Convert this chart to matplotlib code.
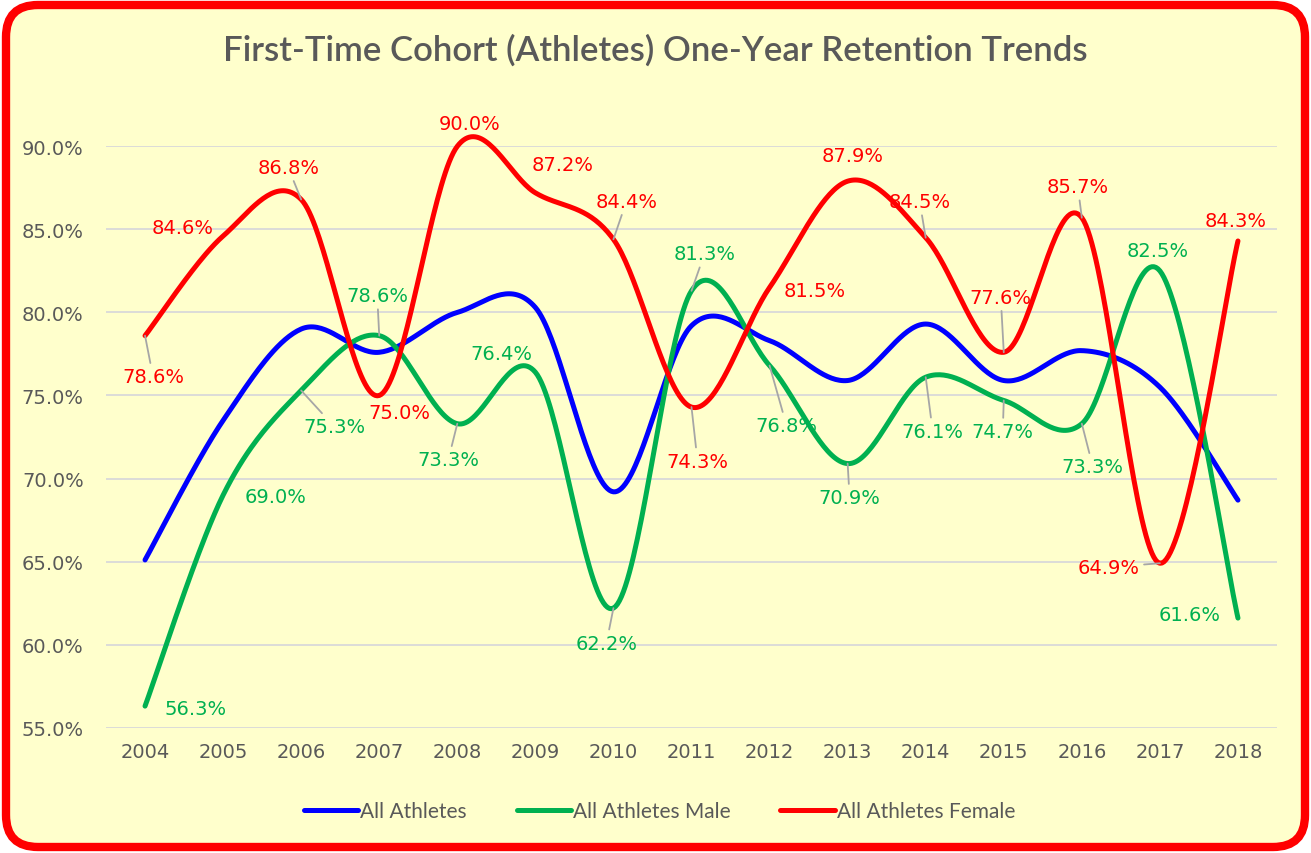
import numpy as np
import matplotlib
matplotlib.use("Agg")
import matplotlib.pyplot as plt
from matplotlib.patches import FancyBboxPatch
from matplotlib.transforms import IdentityTransform
from matplotlib.ticker import PercentFormatter

years = ["2004", "2005", "2006", "2007", "2008", "2009", "2010", "2011",
         "2012", "2013", "2014", "2015", "2016", "2017", "2018"]
all_athletes = [65.1, 73.5, 79.0, 77.6, 80.0, 80.3, 69.2, 79.2,
                78.3, 75.9, 79.3, 75.9, 77.7, 75.5, 68.7]
male = [56.3, 69.0, 75.3, 78.6, 73.3, 76.4, 62.2, 81.3,
        76.8, 70.9, 76.1, 74.7, 73.3, 82.5, 61.6]
female = [78.6, 84.6, 86.8, 75.0, 90.0, 87.2, 84.4, 74.3,
          81.5, 87.9, 84.5, 77.6, 85.7, 64.9, 84.3]

# label offsets in pixels (dx, dy; dy positive = down) and leader line flags
male_off = [(51, 2), (52, 1), (33, 36), (-2, -40), (-9, 36), (-34, -19), (-7, 35), (13, -37),
            (17, 60), (2, 34), (7, 54), (-1, 31), (11, 43), (-2, -20), (-48, -4)]
male_lead = [0, 0, 1, 1, 1, 0, 1, 1, 1, 1, 1, 1, 1, 0, 0]
female_off = [(8, 41), (-40, -9), (-13, -32), (20, 17), (12, -23), (27, -28), (13, -38), (6, 54),
              (45, 3), (5, -26), (-6, -36), (-3, -55), (-4, -31), (-51, 4), (-2, -20)]
female_lead = [1, 0, 1, 0, 0, 0, 1, 1, 0, 0, 1, 1, 1, 1, 0]

BG = "#FFFFCC"
GREY = "#595959"
BLUE = "#0000FF"
GREEN = "#00B050"
RED = "#FF0000"


def smooth(y, n=40):
    # Excel-style smoothed line: cubic Bezier through each point
    y = np.asarray(y, dtype=float)
    x = np.arange(len(y), dtype=float)
    p = np.column_stack([x, y])
    p = np.vstack([p[0], p, p[-1]])
    t = np.linspace(0, 1, n)[:, None]
    out = []
    for i in range(1, len(p) - 2):
        a, b = p[i], p[i + 1]
        c1 = a + (p[i + 1] - p[i - 1]) / 6
        c2 = b - (p[i + 2] - p[i]) / 6
        seg = (1 - t) ** 3 * a + 3 * (1 - t) ** 2 * t * c1 + 3 * (1 - t) * t ** 2 * c2 + t ** 3 * b
        out.append(seg)
    out = np.vstack(out)
    return out[:, 0], out[:, 1]


fig = plt.figure(figsize=(13.11, 8.54), dpi=100)
fig.patch.set_facecolor("white")
frame = FancyBboxPatch((6, 6), 1299, 842, boxstyle="round,pad=0,rounding_size=32",
                       transform=IdentityTransform(), facecolor=BG, edgecolor=RED,
                       linewidth=6, zorder=-10)
fig.add_artist(frame)

ax = fig.add_axes([106 / 1311, 1 - 728.7 / 854, (1277 - 106) / 1311, (728.7 - 147.3) / 854])
ax.set_facecolor("none")

for vals, col, name in [(all_athletes, BLUE, "All Athletes"),
                        (male, GREEN, "All Athletes Male"),
                        (female, RED, "All Athletes Female")]:
    sx, sy = smooth(vals)
    ax.plot(sx, sy, color=col, lw=3.6, solid_capstyle="round", label=name, clip_on=False, zorder=3)

for vals, offs, leads, col in [(male, male_off, male_lead, GREEN),
                               (female, female_off, female_lead, RED)]:
    for i, v in enumerate(vals):
        dx, dy = offs[i]
        props = None
        if leads[i]:
            props = dict(arrowstyle="-", color="#A6A6A6", lw=1.3, shrinkA=1, shrinkB=0)
        ax.annotate(f"{v:.1f}%", (i, v), xytext=(dx, -dy), textcoords="offset pixels",
                    ha="center", va="center", color=col, fontsize=14,
                    arrowprops=props, zorder=4, annotation_clip=False)

ax.set_xlim(-0.5, len(years) - 0.5)
ax.set_ylim(55, 90)
ax.set_yticks(np.arange(55, 91, 5))
ax.yaxis.set_major_formatter(PercentFormatter(decimals=1))
ax.set_xticks(range(len(years)))
ax.set_xticklabels(years)
ax.tick_params(length=0, labelsize=14, labelcolor=GREY, pad=10)
ax.tick_params(axis="y", pad=16)
ax.grid(axis="y", color="#D9D9D9", lw=1.3)
ax.set_axisbelow(True)
for s in ax.spines.values():
    s.set_visible(False)

fig.text(0.5, 1 - 50 / 854, "First-Time Cohort (Athletes) One-Year Retention Trends",
         ha="center", va="center", fontsize=25, color=GREY, family="Lato", weight="semibold")

fig.legend(loc="center", bbox_to_anchor=(0.503, 1 - 812 / 854), ncol=3, frameon=False,
           prop={"family": "Lato", "size": 15}, labelcolor=GREY, handlelength=2.6,
           handletextpad=0.1, columnspacing=2.4)

fig.savefig("out.png", dpi=100, facecolor=fig.get_facecolor())
